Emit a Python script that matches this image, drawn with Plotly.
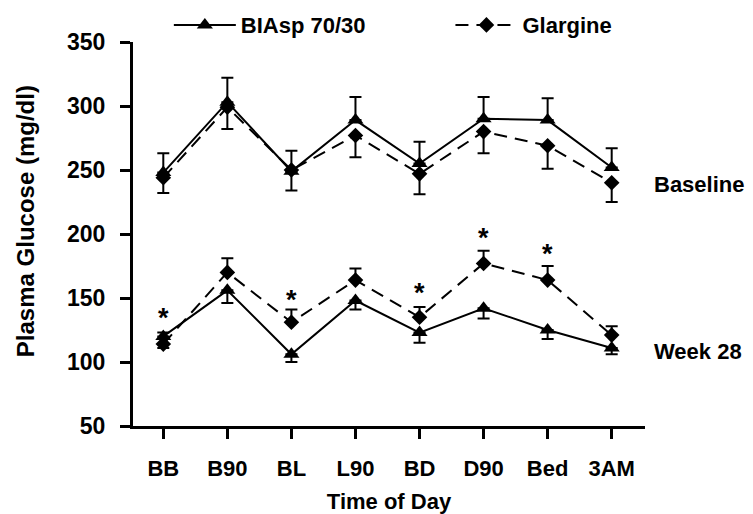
import plotly.graph_objects as go

times = ["BB", "B90", "BL", "L90", "BD", "D90", "Bed", "3AM"]

# Baseline
base_biasp = [248, 303, 249, 289, 255, 290, 289, 252]
base_glar = [244, 299, 250, 277, 247, 280, 269, 240]
base_biasp_plus = [15, 19, 0, 18, 17, 17, 17, 15]
base_biasp_minus = [0, 0, 15, 0, 0, 0, 0, 0]
base_glar_plus = [0, 0, 15, 0, 0, 0, 0, 0]
base_glar_minus = [12, 17, 0, 17, 16, 17, 18, 15]

# Week 28
wk_biasp = [120, 156, 106, 148, 123, 142, 125, 111]
wk_glar = [114, 170, 131, 164, 135, 177, 164, 121]
wk_biasp_plus = [3, 0, 0, 0, 0, 0, 0, 0]
wk_biasp_minus = [0, 10, 6, 7, 8, 8, 7, 5]
wk_glar_plus = [0, 11, 10, 9, 8, 10, 11, 7]
wk_glar_minus = [3, 0, 0, 0, 0, 0, 0, 0]

# significance markers (time, y position)
star_times = ["BB", "BL", "BD", "D90", "Bed"]
star_y = [137, 151, 156, 199, 187]

FONT = "Liberation Sans, Arial, sans-serif"
x_idx = list(range(len(times)))

fig = go.Figure()

def add_series(y, plus, minus, name, symbol, size, dash, show, legend):
    fig.add_trace(go.Scatter(
        x=x_idx, y=y, name=name, mode="lines+markers",
        line=dict(color="black", width=2, dash=dash),
        marker=dict(symbol=symbol, size=size, color="black"),
        error_y=dict(type="data", symmetric=False, array=plus, arrayminus=minus,
                     color="black", thickness=2, width=6),
        legendgroup=name, showlegend=show, legend=legend,
    ))

add_series(base_biasp, base_biasp_plus, base_biasp_minus, "BIAsp 70/30", "triangle-up", 14, "solid", True, "legend")
add_series(base_glar, base_glar_plus, base_glar_minus, "Glargine", "diamond", 12, "13px,8px", True, "legend2")
add_series(wk_biasp, wk_biasp_plus, wk_biasp_minus, "BIAsp 70/30", "triangle-up", 14, "solid", False, "legend")
add_series(wk_glar, wk_glar_plus, wk_glar_minus, "Glargine", "diamond", 12, "13px,8px", False, "legend2")

for t, yv in zip(star_times, star_y):
    fig.add_annotation(x=times.index(t), y=yv, text="*", showarrow=False,
                       font=dict(family=FONT, size=27, color="black", weight="bold"),
                       yanchor="middle", yshift=-3)

BIG = dict(family=FONT, size=22, color="black", weight="bold")
fig.add_annotation(x=1.014, xref="paper", y=239, yref="y", text="Baseline", showarrow=False,
                   xanchor="left", yanchor="middle", font=BIG)
fig.add_annotation(x=1.014, xref="paper", y=108, yref="y", text="Week 28", showarrow=False,
                   xanchor="left", yanchor="middle", font=BIG)
fig.add_annotation(x=-0.211, xref="paper", y=210, yref="y", text="Plasma Glucose (mg/dl)",
                   showarrow=False, textangle=-90, xanchor="center", yanchor="middle",
                   font=dict(family=FONT, size=24, color="black", weight="bold"))

leg = dict(orientation="h", xanchor="left", yanchor="middle", y=1.044,
           font=dict(family=FONT, size=22, color="black", weight="bold"),
           bgcolor="rgba(0,0,0,0)", itemwidth=62)

fig.update_layout(
    width=745, height=506,
    margin=dict(l=125, r=108, t=34, b=88, autoexpand=False),
    paper_bgcolor="white", plot_bgcolor="white",
    font=dict(family=FONT, size=22, color="black", weight="bold"),
    showlegend=True,
    legend=dict(x=0.07, **leg),
    legend2=dict(x=0.62, **leg),
    xaxis=dict(range=[-0.473, 7.52], tickmode="array", tickvals=x_idx, ticktext=times,
               showgrid=False, zeroline=False, showline=True, linecolor="black", linewidth=3,
               ticks="outside", ticklen=10, tickwidth=3, tickcolor="black",
               ticklabelstandoff=11, automargin=False,
               tickfont=dict(family=FONT, size=22, color="black", weight="bold"),
               title=dict(text="Time of Day", standoff=15, font=BIG)),
    yaxis=dict(range=[50, 350], tickvals=[50, 100, 150, 200, 250, 300, 350],
               showgrid=False, zeroline=False, showline=True, linecolor="black", linewidth=3,
               ticks="outside", ticklen=10, tickwidth=3, tickcolor="black",
               ticklabelstandoff=10, automargin=False,
               tickfont=dict(family=FONT, size=23, color="black", weight="bold")),
)

fig.write_html("out.html")
